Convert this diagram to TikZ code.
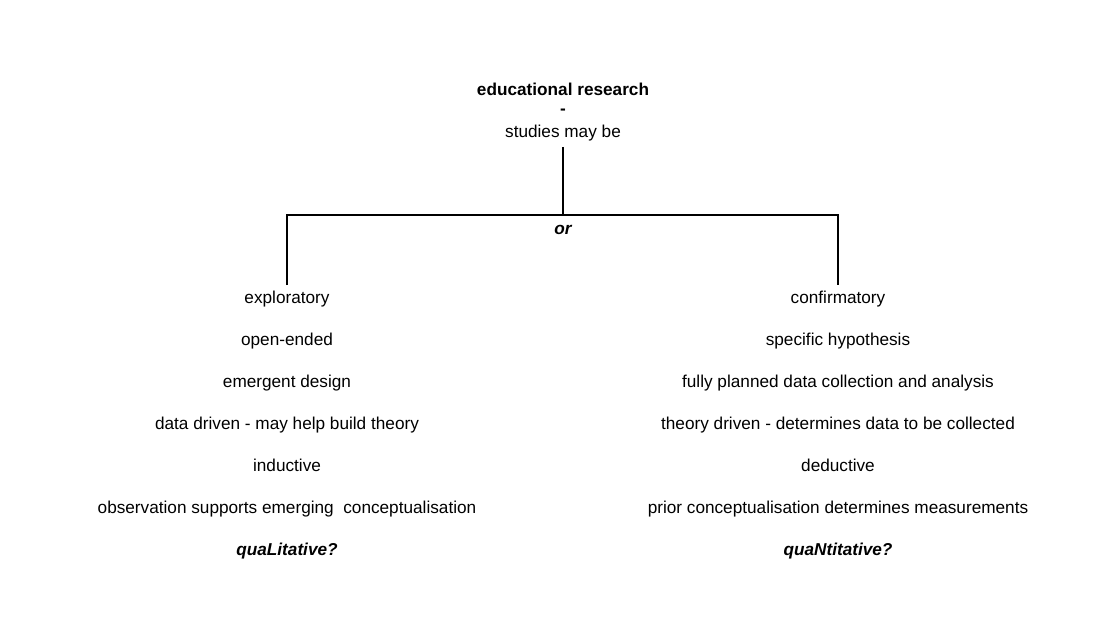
\documentclass[tikz,border=0pt]{standalone}
\usepackage{fontspec}
\setmainfont{Liberation Sans}
\begin{document}
\begin{tikzpicture}[x=1pt,y=1pt,
  lbl/.style={font=\fontsize{17.2}{20}\selectfont, inner sep=0pt, anchor=base},
  head/.style={lbl, font=\fontsize{17.2}{20}\selectfont\bfseries},
  emph/.style={lbl, font=\fontsize{17.2}{20}\selectfont\bfseries\itshape},
  conn/.style={line width=2pt, line cap=butt}]
\useasboundingbox (0,0) rectangle (1111,-625);
\node[head] (title) at (563,-95) {educational research};
\node[head] (dash) at (563,-114) {-};
\node[lbl, inner ysep=6pt] (top) at (563,-137) {studies may be};
\coordinate (j) at (563,-215);
\node[emph] (or) at (563,-234) {or};
% left column
\node[lbl] (expl) at (287,-303) {exploratory};
\node[lbl] (l2) at (287,-345) {open-ended};
\node[lbl] (l3) at (287,-387) {emergent design};
\node[lbl] (l4) at (287,-429) {data driven - may help build theory};
\node[lbl] (l5) at (287,-471) {inductive};
\node[lbl] (l6) at (287,-513) {observation supports emerging\ \ conceptualisation};
\node[emph] (l7) at (287,-555) {quaLitative?};
% right column
\node[lbl] (conf) at (838,-303) {confirmatory};
\node[lbl] (r2) at (838,-345) {specific hypothesis};
\node[lbl] (r3) at (838,-387) {fully planned data collection and analysis};
\node[lbl] (r4) at (838,-429) {theory driven - determines data to be collected};
\node[lbl] (r5) at (838,-471) {deductive};
\node[lbl] (r6) at (838,-513) {prior conceptualisation determines measurements};
\node[emph] (r7) at (838,-555) {quaNtitative?};
% connectors
\coordinate (le) at (287,-285);
\coordinate (re) at (838,-285);
\draw[conn] (top.south) -- (j);
\draw[conn] (le) |- (j) -| (re);
\end{tikzpicture}
\end{document}
